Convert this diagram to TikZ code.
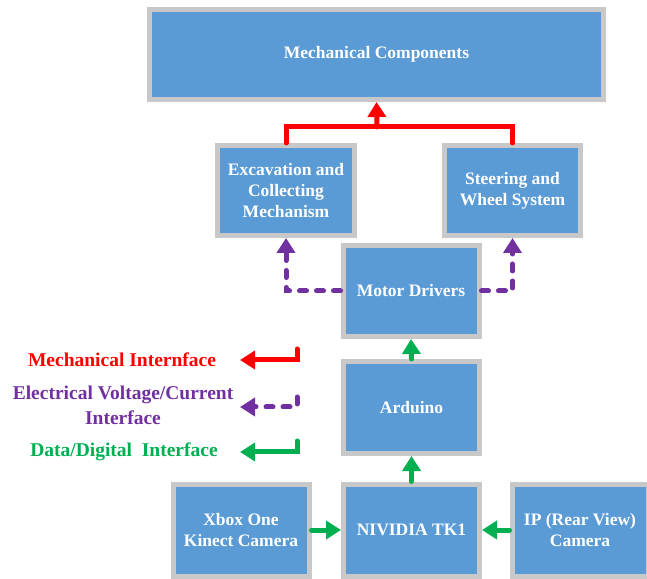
\documentclass[tikz,border=0pt]{standalone}
\usepackage{fontspec}
\setmainfont{Liberation Serif}
\usetikzlibrary{arrows,arrows.meta}
\definecolor{boxblue}{RGB}{91,155,213}
\definecolor{boxgray}{RGB}{200,200,200}
\definecolor{mechred}{RGB}{255,0,0}
\definecolor{elecpurple}{RGB}{112,48,160}
\definecolor{datagreen}{RGB}{0,176,80}
\tikzset{
  blockbox/.style={draw=boxgray,fill=boxblue,line width=5pt,text=white,align=center,font=\fontsize{17.5}{21}\selectfont\bfseries,minimum width=136pt,minimum height=90pt,inner sep=2pt},
  legendtext/.style={align=center,font=\fontsize{19.5}{25}\selectfont\bfseries},
  mechline/.style={draw=mechred,line width=5pt,line cap=round,-{Triangle[width=18pt,length=15pt]}},
  elecline/.style={draw=elecpurple,line width=5pt,line cap=round,dash pattern=on 7pt off 10pt,-{Triangle[width=18pt,length=15pt]}},
  dataline/.style={draw=datagreen,line width=5pt,line cap=round,-{Triangle[width=18pt,length=15pt]}}
}
\begin{document}
\begin{tikzpicture}[x=1pt,y=1pt]
  \useasboundingbox (0,0) rectangle (647,578);
  \node[blockbox,minimum width=454pt,minimum height=90pt] (mech) at (376.5,523.5) {Mechanical Components};
  \node[blockbox,minimum width=137pt] (exc) at (286,387.5) {Excavation and\\Collecting\\Mechanism};
  \node[blockbox] (steer) at (512.5,387.5) {Steering and\\Wheel System};
  \node[blockbox,minimum height=91pt] (motor) at (411,287) {Motor Drivers};
  \node[blockbox,minimum height=92pt] (arduino) at (411.5,170.5) {Arduino};
  \node[blockbox,minimum height=92pt] (nvidia) at (411.5,48) {NIVIDIA TK1};
  \node[blockbox,minimum height=92pt] (xbox) at (241,48) {Xbox One\\Kinect Camera};
  \node[blockbox,minimum height=92pt] (ip) at (580,48) {IP (Rear View)\\Camera};

  \coordinate (mechjoin) at (377,451);
  \draw[mechline,-] (exc.north) |- (mechjoin) -| (steer.north);
  \draw[mechline] (mechjoin) -- (mech.south);
  \draw[elecline] (motor.west) -| (exc.south);
  \draw[elecline] (motor.east) -| (steer.south);
  \draw[dataline] (arduino.north) -- (motor.south);
  \draw[dataline] (nvidia.north) -- (arduino.south);
  \draw[dataline] (xbox.east) -- (nvidia.west);
  \draw[dataline] (ip.west) -- (nvidia.east);

  \node[legendtext,text=mechred] (mechlabel) at (122,218) {Mechanical Internface};
  \node[legendtext,text=elecpurple] (eleclabel) at (123,173) {Electrical Voltage/Current\\Interface};
  \node[legendtext,text=datagreen] (datalabel) at (124,126) {Data/Digital\ \ Interface};
  \coordinate (mechstart) at (297,229); \coordinate (mechend) at (240,218);
  \coordinate (elecstart) at (297,181); \coordinate (elecend) at (240,171);
  \coordinate (datastart) at (297,137); \coordinate (dataend) at (240,126);
  \draw[mechline] (mechstart) |- (mechend);
  \draw[elecline] (elecstart) |- (elecend);
  \draw[dataline] (datastart) |- (dataend);
\end{tikzpicture}
\end{document}
